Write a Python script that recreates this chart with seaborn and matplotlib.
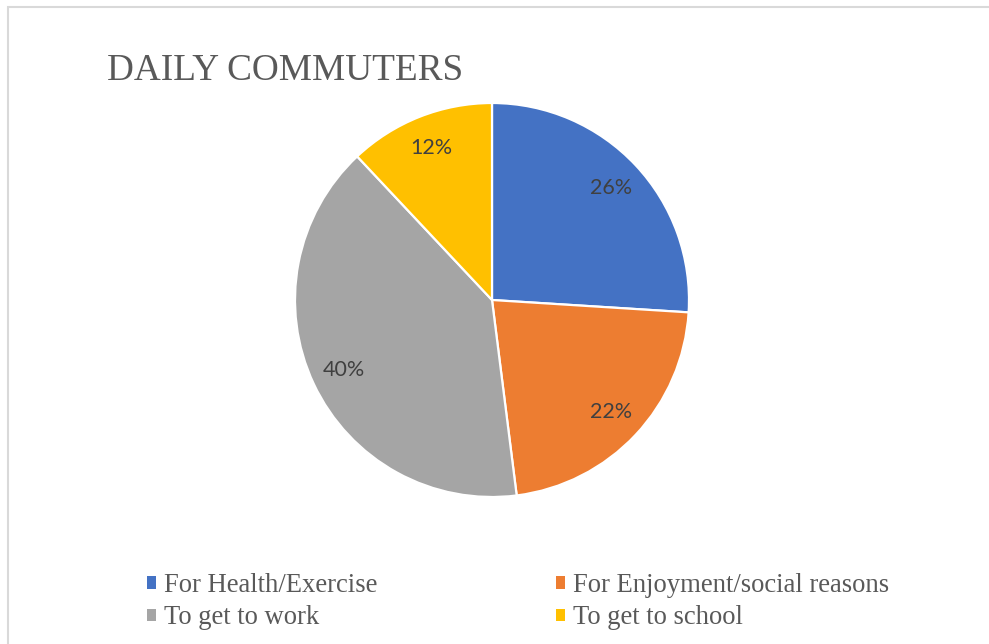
import matplotlib
matplotlib.use("Agg")
import matplotlib.pyplot as plt
from matplotlib.patches import Rectangle
import seaborn as sns

# Data
categories = ["For Health/Exercise", "For Enjoyment/social reasons",
              "To get to work", "To get to school"]
shares = [26, 22, 40, 12]
colors = ["#4472C4", "#ED7D31", "#A5A5A5", "#FFC000"]
title = "DAILY COMMUTERS"

sns.set_theme(style="white")
plt.rcParams["font.family"] = ["Liberation Serif", "DejaVu Serif"]

W, H = 989, 644
fig = plt.figure(figsize=(W / 100, H / 100), dpi=100)
fig.patch.set_facecolor("white")

# chart frame (light gray border)
fig.patches.append(Rectangle((8 / W, -0.1), 1.2, 1 - 7 / H + 0.1,
                             transform=fig.transFigure, fill=False,
                             edgecolor="#d9d9d9", linewidth=1.5, zorder=0))

cx, cy, r = 492, 300, 197
ax = fig.add_axes([(cx - r) / W, (H - cy - r) / H, 2 * r / W, 2 * r / H])
wedges, texts, autotexts = ax.pie(
    shares, colors=colors, startangle=90, counterclock=False,
    autopct=lambda p: f"{p:.0f}%", pctdistance=0.83,
    wedgeprops=dict(edgecolor="white", linewidth=1.6),
    textprops=dict(color="#404040", fontsize=15.5, family=["Lato", "DejaVu Sans"]),
)
ax.set_xlim(-1, 1)
ax.set_ylim(-1, 1)
ax.set_aspect("equal")
ax.axis("off")

fig.text(107 / W, 1 - 80 / H, title, fontsize=26.8, color="#595959",
         va="baseline", ha="left", family=["Liberation Serif"])

order = [0, 2, 1, 3]
leg = fig.legend([wedges[i] for i in order], [categories[i] for i in order],
                 ncol=2, loc="upper left",
                 bbox_to_anchor=(147 / W, 1 - 573 / H),
                 frameon=False, fontsize=19.2, labelcolor="#595959",
                 handlelength=0.33, handleheight=0.33, handletextpad=0.3,
                 columnspacing=6.7, labelspacing=0.28, borderpad=0,
                 borderaxespad=0)
for h in leg.legend_handles:
    h.set_edgecolor("none")

fig.savefig("out.png", dpi=100, facecolor="white")
